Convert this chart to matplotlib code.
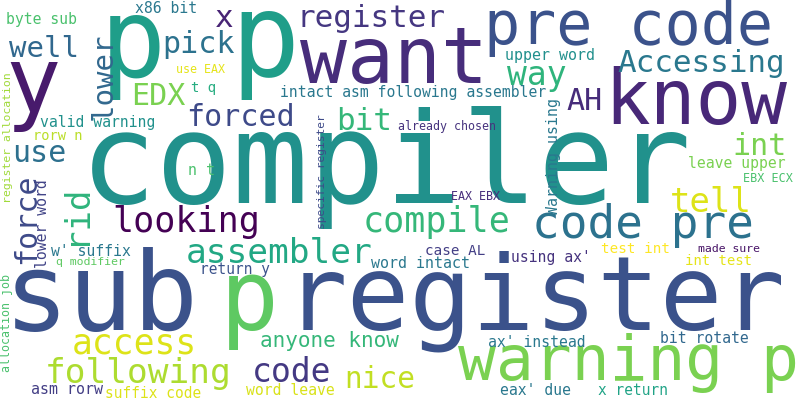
import matplotlib
matplotlib.use("Agg")
import matplotlib.pyplot as plt

# words and their weights (em height in pixels, proportional to frequency)
words = [
    "compiler", "register", "sub", "p", "p", "p", "y", "want", "know",
    "pre code", "warning p", "register", "x", "x86 bit", "byte sub", "well",
    "pick", "lower", "EDX", "use EAX", "t q", "intact asm following assembler",
    "forced", "bit", "valid warning", "rorw n", "use", "n t", "force", "rid",
    "lower word", "register allocation", "allocation job", "w' suffix",
    "q modifier", "looking", "assembler", "compile", "code pre", "tell", "int",
    "leave upper", "EBX ECX", "already chosen", "EAX EBX", "specific register",
    "Warning using", "case AL", "using ax'", "word intact", "test int",
    "made sure", "int test", "return y", "access", "anyone know", "following",
    "code", "nice", "asm rorw", "suffix code", "word leave", "eax' due",
    "x return", "ax' instead", "bit rotate", "Accessing", "way", "upper word",
    "AH",
]
weights = [
    127, 104, 108, 98, 110, 115, 92, 78, 76,
    60, 63, 31, 31, 14.7, 14.7, 29,
    30, 29, 30, 11.6, 14, 14.7,
    30, 31, 14.7, 13.8, 30, 15, 30, 34,
    14.8, 11.5, 11.6, 14.7,
    11.5, 35, 34.5, 35, 46, 34, 30,
    14.7, 11.8, 11.6, 11.6, 11.2,
    15, 14.2, 14.7, 15, 14.3,
    11.5, 14, 14.5, 34.6, 21, 34.5,
    33, 29.5, 15, 14.5, 14.8, 14.7,
    14.5, 14.7, 14.7, 31, 33, 15,
    30,
]

# layout: text origin (left / baseline), rotation and colour for each word
xs = [
    80, 285, 4, 220, 100, 230, 5, 300, 604,
    484, 458, 296, 215, 135, 6, 9,
    162, 112, 131, 176, 191, 280,
    186, 336, 40, 33, 12, 188, 35, 85,
    47, 11, 10, 51,
    56, 112, 186, 363, 532, 670, 732,
    688, 743, 398, 451, 325,
    558, 425, 511, 371, 601,
    698, 685, 200, 72, 260, 45,
    252, 344, 31, 105, 246, 500,
    598, 488, 660, 617, 507, 505,
    566,
]
ys = [
    203, 330, 330, 330, 77, 76, 113, 83, 124,
    44, 380, 27, 27, 13, 24, 57,
    53, 120, 105, 73, 92, 97,
    126, 130, 127, 140, 162, 175, 264, 245,
    268, 203, 372, 256,
    265, 232, 263, 232, 238, 212, 155,
    168, 182, 130, 200, 229,
    215, 255, 262, 268, 253,
    252, 265, 274, 353, 347, 383,
    382, 388, 394, 398, 395, 395,
    395, 347, 343, 72, 85, 60,
    110,
]
vertical = ("lower", "force", "rid", "lower word", "register allocation",
            "allocation job", "specific register", "Warning using")
rots = [90 if w in vertical else 0 for w in words]
colors = [
    "#21918c", "#3b528b", "#3b528b", "#5ec962", "#1f9e89", "#1f9e89", "#481a6c", "#472d7b", "#482878",
    "#3b528b", "#7ad151", "#453781", "#482475", "#2a788e", "#4ac16d", "#31688e",
    "#2c728e", "#31688e", "#7ad151", "#e5e419", "#27ad81", "#2a788e",
    "#3e4a89", "#35b779", "#21918c", "#bade28", "#2d708e", "#4ac16d", "#3e4a89", "#2fb47c",
    "#414487", "#a0da39", "#4ac16d", "#2a788e",
    "#5ec962", "#440154", "#22a884", "#35b779", "#2c728e", "#dde318", "#7ad151",
    "#7ad151", "#4ac16d", "#46337e", "#472d7b", "#3e4a89",
    "#2a788e", "#433e85", "#46337e", "#2a788e", "#fde725",
    "#481467", "#e5e419", "#3b528b", "#dde318", "#35b779", "#addc30",
    "#443983", "#c2df23", "#433e85", "#dde318", "#d8e219", "#2a788e",
    "#20a386", "#2a788e", "#31688e", "#2a788e", "#2fb47c", "#21908d",
    "#472c7a",
]

DPI = 100
fig = plt.figure(figsize=(8, 4), dpi=DPI)
ax = fig.add_axes([0, 0, 1, 1])
ax.set_xlim(0, 800)
ax.set_ylim(400, 0)
ax.axis("off")

for w, s, x, y, r, c in zip(words, weights, xs, ys, rots, colors):
    ax.text(x, y, w, fontsize=s * 72 / DPI, family="DejaVu Sans Mono",
            color=c, ha="left", va="baseline", rotation=r,
            rotation_mode="anchor")

fig.savefig("out.png", dpi=DPI, facecolor="white")
